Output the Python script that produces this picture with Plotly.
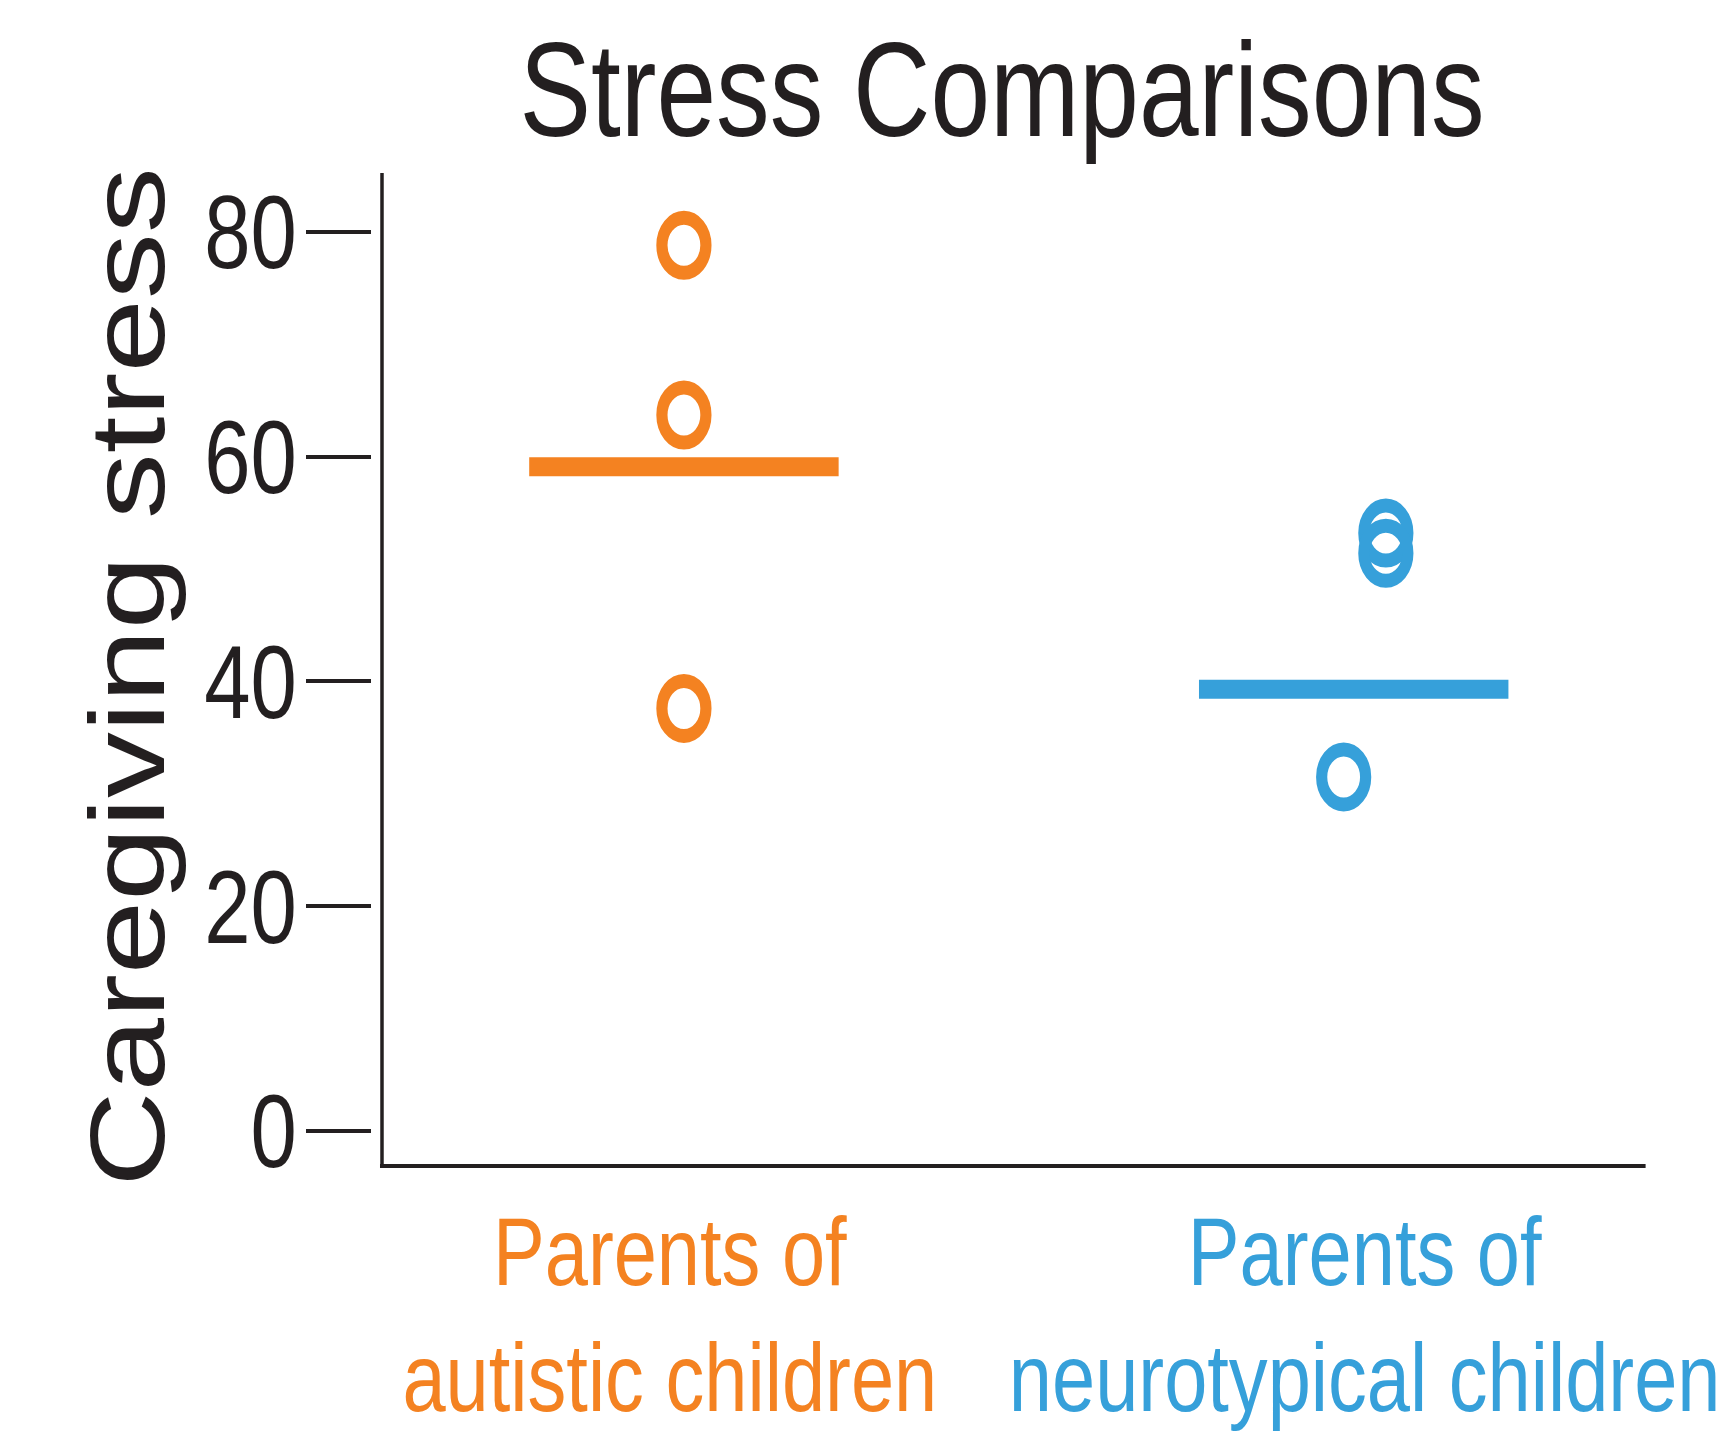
import plotly.graph_objects as go

# ---- data ----
group_labels = ["Parents of<br>autistic children", "Parents of<br>neurotypical children"]
autistic_scores = [78.8, 63.7, 37.6]
neurotypical_scores = [53.2, 51.4, 31.5]
group_means = [59.1, 39.3]
y_ticks = [0, 20, 40, 60, 80]

# ---- style ----
ORANGE = "#F48221"
BLUE = "#36A0DA"
INK = "#231F20"
FONT = "Liberation Sans, Arial, Helvetica, sans-serif"
colors = [ORANGE, BLUE]
jitter = [[0.0, 0.0, 0.0], [0.048, 0.048, -0.015]]
label_shift = [-0.021, 0.016]
half_w = 0.231
SX = 0.8  # horizontal condensing of the whole figure (reference is narrow)

W, H = 1717, 1431           # final page pixels
L, R, T, B = 372, 1646, 173, 1166
Wu = W / SX                 # plotly layout width before condensing

fig = go.Figure()
for gi, scores in enumerate([autistic_scores, neurotypical_scores]):
    fig.add_trace(go.Scatter(
        x=[gi + j for j in jitter[gi]], y=scores, mode="markers",
        marker=dict(symbol="circle-open", size=55, color=colors[gi],
                    line=dict(width=14, color=colors[gi])),
        showlegend=False, hoverinfo="y"))
    fig.add_trace(go.Scatter(
        x=[gi - half_w, gi + half_w], y=[group_means[gi]] * 2, mode="lines",
        line=dict(color=colors[gi], width=19), showlegend=False, hoverinfo="y"))

annotations = []
for gi, (lab, c) in enumerate(zip(group_labels, colors)):
    annotations.append(dict(
        text=lab, x=gi + label_shift[gi], xref="x", y=0, yref="paper",
        xanchor="center", yanchor="top", yshift=-29, showarrow=False,
        align="center", font=dict(family=FONT, size=97, color=c)))
annotations.append(dict(
    text="Caregiving stress", textangle=-90, x=(127 - L) / (R - L), xref="paper",
    y=(B - 677) / (B - T), yref="paper", xanchor="center", yanchor="middle",
    showarrow=False, font=dict(family=FONT, size=132, color=INK)))

fig.update_layout(
    width=Wu, height=H,
    margin=dict(l=L / SX, r=(W - R) / SX, t=T, b=H - B, autoexpand=False),
    paper_bgcolor="white", plot_bgcolor="white",
    title=dict(text="Stress Comparisons", x=1002 / W, xanchor="center",
               y=1 - 89 / H, yanchor="middle", yref="container",
               font=dict(family=FONT, size=134, color=INK)),
    xaxis=dict(range=[-0.4657, 1.4358], showticklabels=False,
               showgrid=False, zeroline=False, showline=False, ticks="",
               fixedrange=True),
    yaxis=dict(range=[-3.11, 85.23], tickvals=y_ticks, showgrid=False,
               zeroline=False, showline=False, ticks="outside", ticklen=65 / SX,
               tickwidth=3.5, tickcolor=INK, ticklabelstandoff=-9,
               tickfont=dict(family=FONT, size=104, color=INK),
               fixedrange=True),
    annotations=annotations,
    shapes=[
        dict(type="line", xref="paper", yref="paper",
             x0=(382 - L) / (R - L), x1=(382 - L) / (R - L),
             y0=0, y1=1, line=dict(color=INK, width=3.5 / SX)),
        dict(type="line", xref="paper", yref="paper",
             x0=(380 - L) / (R - L), x1=1,
             y0=0, y1=0, line=dict(color=INK, width=4)),
    ],
)

post = f"""
document.documentElement.style.margin = '0';
document.documentElement.style.overflow = 'hidden';
document.body.style.margin = '0';
document.body.style.overflow = 'hidden';
var gd = document.getElementById('{{plot_id}}');
gd.style.transformOrigin = '0 0';
gd.style.transform = 'scaleX({SX})';
"""

fig.write_html("out.html", post_script=post, config={"displayModeBar": False})
